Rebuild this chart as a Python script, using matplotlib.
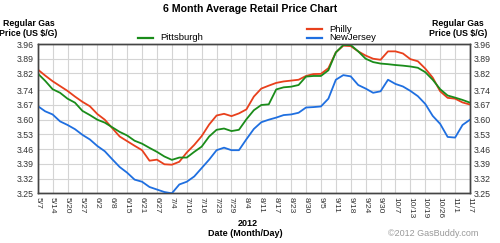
import numpy as np
import matplotlib
matplotlib.use("Agg")
import matplotlib.pyplot as plt
from matplotlib.lines import Line2D

plt.rcParams['font.family'] = ['Liberation Sans', 'DejaVu Sans']

# tick labels along the date axis (evenly spaced on the chart)
date_labels = ['5/7', '5/14', '5/20', '5/27', '6/2', '6/8', '6/15', '6/21', '6/27', '7/4',
               '7/10', '7/16', '7/23', '7/29', '8/4', '8/11', '8/17', '8/23', '8/30', '9/5',
               '9/11', '9/18', '9/24', '9/30', '10/7', '10/13', '10/19', '10/26', '11/1', '11/7']
price_ticks = [3.25, 3.32, 3.39, 3.46, 3.53, 3.60, 3.67, 3.74, 3.82, 3.89, 3.96]

# readings every half label step
philly = [3.839, 3.81, 3.783, 3.76, 3.737, 3.71, 3.685, 3.664, 3.627, 3.60,
          3.56, 3.52, 3.498, 3.476, 3.455, 3.405, 3.41, 3.388, 3.386, 3.40,
          3.444, 3.48, 3.522, 3.577, 3.62, 3.628, 3.617, 3.63, 3.649, 3.71,
          3.748, 3.762, 3.775, 3.782, 3.786, 3.79, 3.808, 3.817, 3.818, 3.845,
          3.92, 3.952, 3.95, 3.925, 3.905, 3.89, 3.885, 3.925, 3.925, 3.915,
          3.888, 3.878, 3.843, 3.80, 3.735, 3.704, 3.70, 3.682, 3.672]
pittsburgh = [3.82, 3.785, 3.745, 3.728, 3.70, 3.681, 3.642, 3.622, 3.60, 3.586,
              3.564, 3.542, 3.525, 3.50, 3.486, 3.466, 3.447, 3.425, 3.409, 3.42,
              3.42, 3.447, 3.472, 3.52, 3.552, 3.558, 3.546, 3.552, 3.602, 3.645,
              3.67, 3.673, 3.744, 3.754, 3.757, 3.765, 3.805, 3.808, 3.808, 3.835,
              3.92, 3.955, 3.955, 3.925, 3.89, 3.874, 3.867, 3.864, 3.86, 3.857,
              3.853, 3.847, 3.826, 3.79, 3.745, 3.715, 3.705, 3.694, 3.681]
newjersey = [3.665, 3.64, 3.625, 3.592, 3.575, 3.555, 3.528, 3.506, 3.475, 3.45,
             3.412, 3.375, 3.348, 3.315, 3.305, 3.28, 3.268, 3.256, 3.25, 3.292,
             3.305, 3.33, 3.37, 3.41, 3.455, 3.467, 3.455, 3.455, 3.507, 3.556,
             3.588, 3.60, 3.61, 3.622, 3.625, 3.633, 3.658, 3.66, 3.663, 3.70,
             3.79, 3.812, 3.806, 3.765, 3.748, 3.728, 3.735, 3.79, 3.77, 3.758,
             3.737, 3.712, 3.675, 3.618, 3.58, 3.518, 3.515, 3.575, 3.60]

RED = '#e8401c'
GREEN = '#1a8c1a'
BLUE = '#1f6fe0'
W, H = 500, 243


def px(x, y):
    return x / W, 1 - y / H


fig = plt.figure(figsize=(5, 2.43), dpi=100)
ax = fig.add_axes([37.7 / W, 1 - 193.3 / H, (470 - 37.7) / W, (193.3 - 44) / H])

steps = np.arange(len(philly)) / 2
ax.plot(steps, newjersey, color=BLUE, lw=1.3, zorder=3)
ax.plot(steps, philly, color=RED, lw=1.3, zorder=3)
ax.plot(steps, pittsburgh, color=GREEN, lw=1.3, zorder=4)

ax.set_xlim(0, len(date_labels) - 1)
ax.set_ylim(price_ticks[0], price_ticks[-1])
ax.set_xticks(range(len(date_labels)))
ax.set_xticklabels(date_labels, rotation=-90, fontsize=6, color='#333333')
ax.set_yticks(price_ticks)
ax.set_yticklabels(['%.2f' % v for v in price_ticks], fontsize=6.3, color='#333333')
ax.tick_params(length=0, pad=3)
ax.grid(True, color='#d4d4d4', lw=0.8)
ax.set_axisbelow(True)
for s in ax.spines.values():
    s.set_color('#444444')
    s.set_linewidth(1.0)

ax2 = ax.twinx()
ax2.set_ylim(price_ticks[0], price_ticks[-1])
ax2.set_yticks(price_ticks)
ax2.set_yticklabels(['%.2f' % v for v in price_ticks], fontsize=6.3, color='#333333')
ax2.tick_params(length=0, pad=3)
for s in ax2.spines.values():
    s.set_color('#444444')
    s.set_linewidth(1.0)

# titles and labels
fig.text(*px(250, 9), '6 Month Average Retail Price Chart', ha='center', va='center',
         fontsize=7.6, fontweight='bold')
fig.text(*px(28.5, 28.5), 'Regular Gas\nPrice (US $/G)', ha='center', va='center',
         fontsize=6.3, fontweight='bold', linespacing=1.15)
fig.text(*px(458, 28.5), 'Regular Gas\nPrice (US $/G)', ha='center', va='center',
         fontsize=6.3, fontweight='bold', linespacing=1.15)
fig.text(*px(248, 223), '2012', ha='center', va='center', fontsize=6.5, fontweight='bold')
fig.text(*px(245, 234), 'Date (Month/Day)', ha='center', va='center', fontsize=6.5,
         fontweight='bold')
fig.text(*px(478, 234), '\u00a92012 GasBuddy.com', ha='right', va='center', fontsize=6.5,
         color='#999999')

# legend
legend_items = [('Pittsburgh', GREEN, 138, 38), ('Philly', RED, 307, 29),
                ('NewJersey', BLUE, 307, 38)]
for name, col, x0, y0 in legend_items:
    x1, yy = px(x0, y0)
    x2, _ = px(x0 + 15, y0)
    fig.add_artist(Line2D([x1, x2], [yy, yy], color=col, lw=1.6, transform=fig.transFigure))
    fig.text(*px(x0 + 22, y0), name, ha='left', va='center', fontsize=6.8)

fig.savefig('out.png', dpi=100, facecolor='white')
